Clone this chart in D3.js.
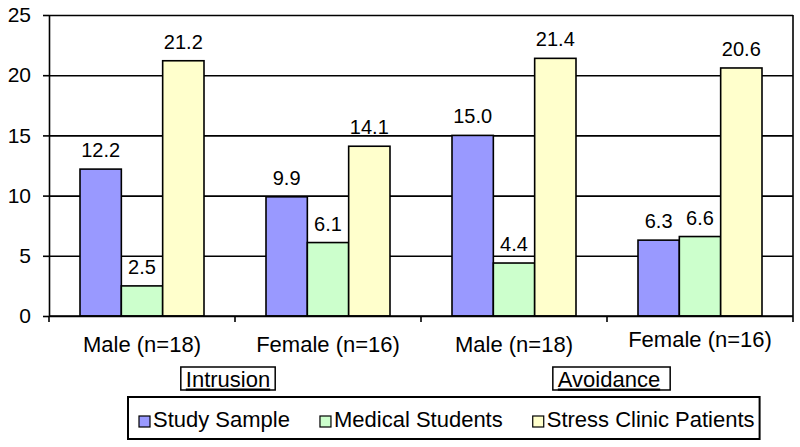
<!DOCTYPE html>
<html>
<head>
<meta charset="utf-8">
<script src="https://cdn.jsdelivr.net/npm/d3@7"></script>
<style>
  body { margin: 0; background: #fff; }
  text { font-family: "Liberation Sans", Arial, Helvetica, sans-serif; fill: #000; }
  .grid line { stroke: #000; stroke-width: 1.6; }
  .grid path { display: none; }
  .yaxis path, .yaxis line { stroke: #000; stroke-width: 1.6; }
  .yaxis text { font-size: 21px; }
</style>
</head>
<body>
<svg id="chart" width="800" height="447"></svg>
<script>
// chart values
var categories = ["Male (n=18)", "Female (n=16)", "Male (n=18)", "Female (n=16)"];
var groups = ["Intrusion", "Avoidance"];
var seriesNames = ["Study Sample", "Medical Students", "Stress Clinic Patients"];
var studySample = [12.2, 9.9, 15.0, 6.3];
var medicalStudents = [2.5, 6.1, 4.4, 6.6];
var stressClinic = [21.2, 14.1, 21.4, 20.6];
var yTicks = [0, 5, 10, 15, 20, 25];

var colors = ["#9999ff", "#ccffcc", "#ffffcc"];

var svg = d3.select("#chart"),
    format = d3.format(".1f");

var plot = {left: 49, right: 793, top: 15, bottom: 316};

var series = [studySample, medicalStudents, stressClinic];

var y = d3.scaleLinear()
  .domain([0, 25])
  .range([plot.bottom, plot.top]);

var x0 = d3.scaleBand()
  .domain(d3.range(categories.length))
  .range([plot.left, plot.right])
  .padding(0);

var x1 = d3.scaleBand()
  .domain(d3.range(seriesNames.length))
  .range([0, x0.bandwidth()])
  .paddingInner(0)
  .paddingOuter(0.75);

// gridlines (behind the bars)
svg.append("g")
  .attr("class", "grid")
  .attr("transform", "translate(" + plot.left + ",0)")
  .call(d3.axisLeft(y).tickValues(yTicks).tickSize(-(plot.right - plot.left)).tickFormat(""));

// right border of plot area
svg.append("line")
  .attr("x1", plot.right).attr("x2", plot.right)
  .attr("y1", plot.top).attr("y2", plot.bottom)
  .attr("stroke", "#000").attr("stroke-width", 1.6);

// bars
var cat = svg.selectAll(".cat")
  .data(categories)
  .enter().append("g")
    .attr("class", "cat")
    .attr("transform", function(d, i) { return "translate(" + x0(i) + ",0)"; });

cat.selectAll("rect")
  .data(function(d, i) { return series.map(function(s, j) { return {s: j, v: s[i]}; }); })
  .enter().append("rect")
    .attr("x", function(d) { return x1(d.s); })
    .attr("y", function(d) { return y(d.v); })
    .attr("width", x1.bandwidth())
    .attr("height", function(d) { return y(0) - y(d.v); })
    .attr("fill", function(d) { return colors[d.s]; })
    .attr("stroke", "#000")
    .attr("stroke-width", 1.6);

cat.selectAll(".val")
  .data(function(d, i) { return series.map(function(s, j) { return {s: j, v: s[i]}; }); })
  .enter().append("text")
    .attr("class", "val")
    .attr("x", function(d) { return x1(d.s) + x1.bandwidth() / 2; })
    .attr("y", function(d) { return y(d.v) - 12; })
    .attr("text-anchor", "middle")
    .attr("font-size", "20px")
    .text(function(d) { return format(d.v); });

// y axis
svg.append("g")
  .attr("class", "yaxis")
  .attr("transform", "translate(" + plot.left + ",0)")
  .call(d3.axisLeft(y).tickValues(yTicks).tickSize(6).tickSizeOuter(0).tickPadding(12));

// x axis line + ticks on the category boundaries
svg.append("line")
  .attr("x1", plot.left).attr("x2", plot.right)
  .attr("y1", plot.bottom).attr("y2", plot.bottom)
  .attr("stroke", "#000").attr("stroke-width", 1.6);

svg.selectAll(".xtick")
  .data(d3.range(categories.length + 1))
  .enter().append("line")
    .attr("class", "xtick")
    .attr("x1", function(i) { return i < categories.length ? x0(i) : plot.right; })
    .attr("x2", function(i) { return i < categories.length ? x0(i) : plot.right; })
    .attr("y1", plot.bottom).attr("y2", plot.bottom + 6)
    .attr("stroke", "#000").attr("stroke-width", 1.6);

svg.selectAll(".xlabel")
  .data(categories)
  .enter().append("text")
    .attr("class", "xlabel")
    .attr("x", function(d, i) { return x0(i) + x0.bandwidth() / 2; })
    .attr("y", function(d, i) { return i === 3 ? 346.5 : 351.5; }) // last one sits a bit higher
    .attr("text-anchor", "middle")
    .attr("font-size", "22px")
    .text(function(d) { return d; });

// group labels, underlined in a box
var shift = [-7, 2];
groups.forEach(function(g, k) {
  var cx = x0(k * 2) + x0.bandwidth() + shift[k];
  var box = svg.append("rect");
  var t = svg.append("text")
    .attr("x", cx)
    .attr("y", 386.5)
    .attr("text-anchor", "middle")
    .attr("font-size", "22px")
    .attr("text-decoration", "underline")
    .text(g);
  var bb = t.node().getBBox();
  box
    .attr("x", bb.x - 5)
    .attr("y", 367)
    .attr("width", bb.width + 10 + (k === 1 ? 5 : 0))
    .attr("height", 23)
    .attr("fill", "#fff")
    .attr("stroke", "#000")
    .attr("stroke-width", 1.5);
});

// legend
var legend = svg.append("g").attr("class", "legend");
var lx = 139, ly = 427;
var legendBox = legend.append("rect")
  .attr("fill", "#fff")
  .attr("stroke", "#000")
  .attr("stroke-width", 2);

seriesNames.forEach(function(name, i) {
  legend.append("rect")
    .attr("x", lx)
    .attr("y", ly - 11)
    .attr("width", 11)
    .attr("height", 11)
    .attr("fill", colors[i])
    .attr("stroke", "#000")
    .attr("stroke-width", 1.2);
  var t = legend.append("text")
    .attr("x", lx + 14)
    .attr("y", ly)
    .attr("font-size", "22px")
    .text(name);
  lx += 14 + t.node().getComputedTextLength() + 30;
});

legendBox
  .attr("x", 128)
  .attr("y", 397)
  .attr("width", lx - 30 + 5 - 128)
  .attr("height", 42);
</script>
</body>
</html>
